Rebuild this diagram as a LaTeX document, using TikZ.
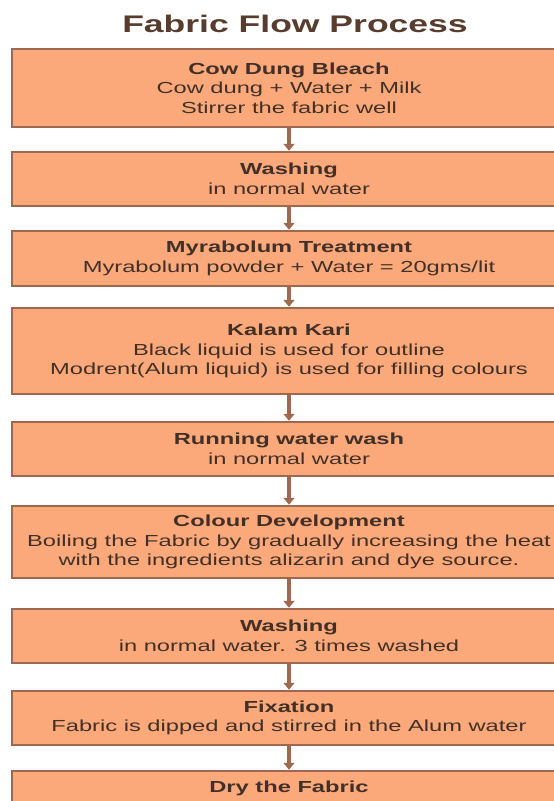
\documentclass[tikz,border=0pt]{standalone}
\usepackage{fontspec}
\setmainfont[FakeStretch=1.48]{Liberation Sans}
\usetikzlibrary{arrows.meta}
\definecolor{boxfill}{RGB}{251,169,122}
\definecolor{boxedge}{RGB}{160,104,78}
\definecolor{titlec}{RGB}{88,60,45}
\definecolor{textc}{RGB}{66,48,40}
\tikzset{
  stepbox/.style={draw=boxedge, fill=boxfill, line width=2.5pt, minimum width=554pt,
    align=center, text=textc, inner sep=0pt,
    font=\fontsize{16}{19.5}\selectfont},
  flowarrow/.style={draw=boxedge, line width=3.5pt,
    -{Triangle[width=11pt,length=7pt]}},
}
\begin{document}
\begin{tikzpicture}[x=1pt,y=-1pt]
\useasboundingbox (0,0) rectangle (554,801);
\clip (0,0) rectangle (554,801);
\fill[white] (0,0) rectangle (554,801);
\node[font=\bfseries\fontsize{24}{28}\selectfont, text=titlec] (title) at (295,24) {Fabric Flow Process};
\node[stepbox, minimum height=78pt] (b1) at (289,88) {\textbf{Cow Dung Bleach}\\Cow dung + Water + Milk\\Stirrer the fabric well};
\node[stepbox, minimum height=54pt] (b2) at (289,179) {\textbf{Washing}\\in normal water};
\node[stepbox, minimum height=55pt] (b3) at (289,258.5) {\textbf{Myrabolum Treatment}\\Myrabolum powder + Water = 20gms/lit};
\node[stepbox, minimum height=86pt] (b4) at (289,351) {\textbf{Kalam Kari}\\Black liquid is used for outline\\Modrent(Alum liquid) is used for filling colours};
\node[stepbox, minimum height=54pt] (b5) at (289,449) {\textbf{Running water wash}\\in normal water};
\node[stepbox, minimum height=72pt] (b6) at (289,542) {\textbf{Colour Development}\\Boiling the Fabric by gradually increasing the heat\\with the ingredients alizarin and dye source.};
\node[stepbox, minimum height=54pt] (b7) at (289,636) {\textbf{Washing}\\in normal water. 3 times washed};
\node[stepbox, minimum height=54pt] (b8) at (289,718) {\textbf{Fixation}\\Fabric is dipped and stirred in the Alum water};
\node[stepbox, minimum height=34pt] (b9) at (289,788) {\textbf{Dry the Fabric}};
\draw[flowarrow] (b1.south) -- (b2.north);
\draw[flowarrow] (b2.south) -- (b3.north);
\draw[flowarrow] (b3.south) -- (b4.north);
\draw[flowarrow] (b4.south) -- (b5.north);
\draw[flowarrow] (b5.south) -- (b6.north);
\draw[flowarrow] (b6.south) -- (b7.north);
\draw[flowarrow] (b7.south) -- (b8.north);
\draw[flowarrow] (b8.south) -- (b9.north);
\end{tikzpicture}
\end{document}
